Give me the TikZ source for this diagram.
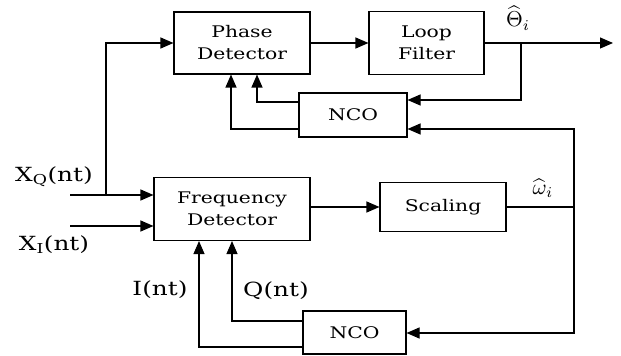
\documentclass[tikz,border=0pt]{standalone}
\usepackage{graphicx}
\usepackage{fontspec}
\setmainfont{DejaVu Serif}[FakeStretch=1.27]
\usetikzlibrary{arrows.meta}
\begin{document}
\begin{tikzpicture}[x=1pt,y=1pt,
  blk/.style={draw, line width=1.1pt, inner sep=0pt, align=center, font=\fontsize{16}{22}\selectfont},
  conn/.style={line width=1.1pt},
  arr/.style={conn, -{Triangle[length=13pt,width=11pt]}},
  lbl/.style={font=\fontsize{19.5}{22}\selectfont, inner sep=0pt},
  mlbl/.style={inner sep=0pt}]
\useasboundingbox (0,0) rectangle (621,356);
% blocks
\node[blk, minimum width=136pt, minimum height=62pt] (pd) at (242,313) {Phase\\Detector};
\node[blk, minimum width=115pt, minimum height=63pt] (lf) at (426.5,313) {Loop\\Filter};
\node[blk, minimum width=108pt, minimum height=44pt] (nco1) at (353,241) {NCO};
\node[blk, minimum width=156pt, minimum height=63pt] (fd) at (232,147) {Frequency\\Detector};
\node[blk, minimum width=126pt, minimum height=49pt] (sc) at (443,149) {Scaling};
\node[blk, minimum width=103pt, minimum height=43pt] (nco2) at (354.5,23.5) {NCO};
% coordinates
\coordinate (out) at (613,313);
\coordinate (tap) at (521,313);
\coordinate (fb) at (574,149);
\coordinate (xq) at (70,161);
\coordinate (xi) at (70,130);
\coordinate (br) at (106,161);
% labels
\node[mlbl] (th) at (518,338) {\scalebox{2.15}{$\widehat{\Theta}_i$}};
\node[mlbl] (om) at (543,168) {\scalebox{2.15}{$\widehat{\omega}_i$}};
\node[lbl] (lxq) at (54,179) {X\textsubscript{Q}(nt)};
\node[lbl] (lxi) at (54,111) {X\textsubscript{I}(nt)};
\node[lbl] (li) at (160,66) {I(nt)};
\node[lbl] (lq) at (276,65) {Q(nt)};
% connectors
\draw[arr] (pd.east |- 0,313) -- (lf.west |- 0,313);
\draw[arr] (lf.east |- 0,313) -- (out);
\draw[arr] (tap) |- (nco1.east |- 0,256);
\draw[conn] (sc.east |- fb) -- (fb);
\draw[arr] (fb) |- (nco1.east |- 0,227);
\draw[arr] (fb) |- (nco2.east |- 0,23);
\draw[arr] (nco1.west |- 0,254) -| (257,0 |- pd.south);
\draw[arr] (nco1.west |- 0,227) -| (231,0 |- pd.south);
\draw[arr] (nco2.west |- 0,35) -| (232,0 |- fd.south);
\draw[arr] (nco2.west |- 0,9) -| (199,0 |- fd.south);
\draw[arr] (xq) -- (fd.west |- xq);
\draw[arr] (xi) -- (fd.west |- xi);
\draw[arr] (br) |- (pd.west |- 0,313);
\draw[arr] (fd.east |- 0,149) -- (sc.west |- 0,149);
\end{tikzpicture}
\end{document}
